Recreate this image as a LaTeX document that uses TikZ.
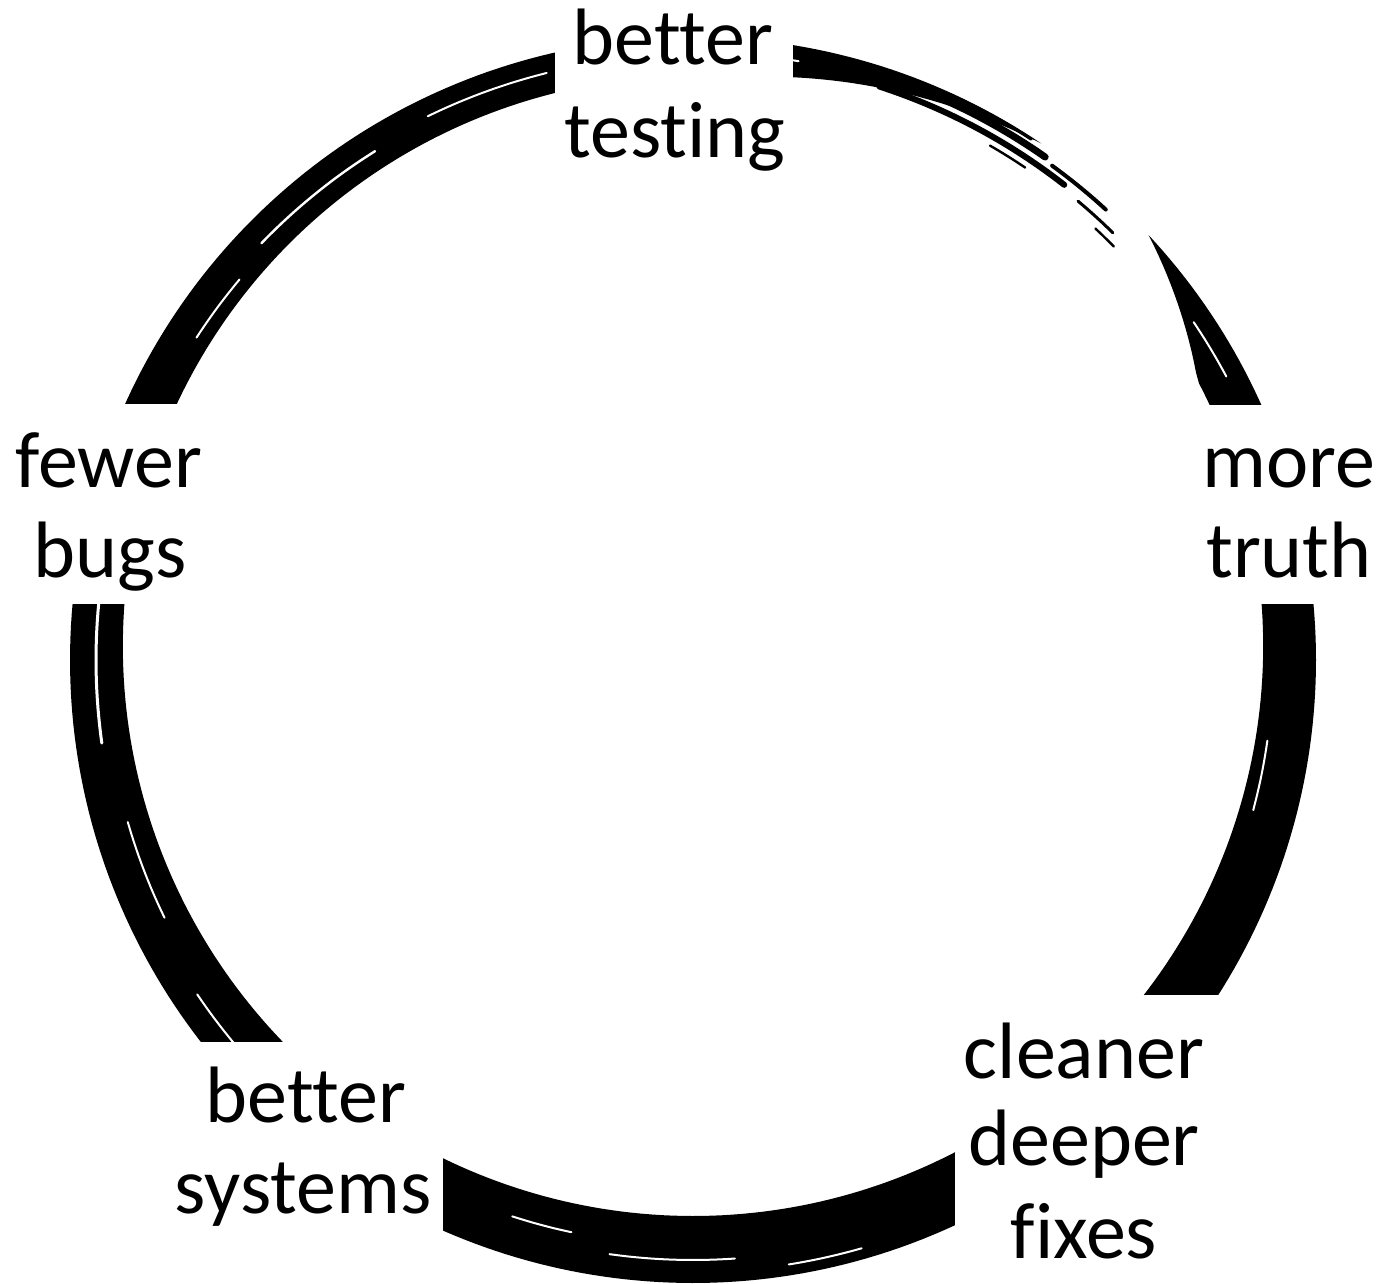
\documentclass[tikz,border=0pt]{standalone}
\usepackage{fontspec}
\setmainfont{Carlito}[Ligatures={NoCommon,NoRequired,NoContextual}]
\begin{document}
\begin{tikzpicture}[x=0.5pt,y=-0.5pt,
  lbl/.style={font=\fontsize{40pt}{46pt}\selectfont, anchor=base, inner sep=0pt},
  mask/.style={fill=white},
  streak/.style={black, line cap=round, line join=round},
  slit/.style={white, line cap=round}]
\useasboundingbox (0,0) rectangle (1386,1284);
\fill[white] (0,0) rectangle (1386,1284);
% main brush ring
\fill[black] plot[domain=-304:43, samples=340] ({693+623*cos(\x)},{660-623*sin(\x)})
  -- plot[domain=43:-304, samples=340]
  ({693+(623-(53-14*sin(\x))*min(1,(43-\x)/14)*min(1,(\x+304)/30))*cos(\x)},
   {660-(623-(53-14*sin(\x))*min(1,(43-\x)/14)*min(1,(\x+304)/30))*sin(\x)}) -- cycle;
% fragmented streaks, upper right
\draw[streak, line width=3.5pt] plot[domain=76:55, samples=30] ({693+614*cos(\x)},{660-614*sin(\x)});
\draw[streak, line width=3pt] plot[domain=72:52, samples=30] ({693+603*cos(\x)},{660-603*sin(\x)});
\draw[streak, line width=1.5pt] plot[domain=66:57, samples=20] ({693+621*cos(\x)},{660-621*sin(\x)});
\draw[streak, line width=2pt] plot[domain=54:47.5, samples=10] ({693+611*cos(\x)},{660-611*sin(\x)});
\draw[streak, line width=1.5pt] plot[domain=50:45.5, samples=10] ({693+599*cos(\x)},{660-599*sin(\x)});
\draw[streak, line width=1.2pt] plot[domain=47:44.5, samples=10] ({693+590*cos(\x)},{660-590*sin(\x)});
\draw[streak, line width=1.2pt] plot[domain=60:56, samples=10] ({693+594*cos(\x)},{660-594*sin(\x)});
% white slits for brush texture
\draw[slit, line width=1.5pt] plot[domain=172:188, samples=20] ({693+597*cos(\x)},{660-597*sin(\x)});
\draw[slit, line width=1pt] plot[domain=160:168, samples=10] ({693+607*cos(\x)},{660-607*sin(\x)});
\draw[slit, line width=1pt] plot[domain=196:206, samples=10] ({693+588*cos(\x)},{660-588*sin(\x)});
\draw[slit, line width=1.2pt] plot[domain=122:136, samples=20] ({693+600*cos(\x)},{660-600*sin(\x)});
\draw[slit, line width=1pt] plot[domain=140:147, samples=10] ({693+592*cos(\x)},{660-592*sin(\x)});
\draw[slit, line width=1pt] plot[domain=104:116, samples=20] ({693+605*cos(\x)},{660-605*sin(\x)});
\draw[slit, line width=1pt] plot[domain=80:88, samples=10] ({693+608*cos(\x)},{660-608*sin(\x)});
\draw[slit, line width=1pt] plot[domain=262:274, samples=20] ({693+600*cos(\x)},{660-600*sin(\x)});
\draw[slit, line width=1pt] plot[domain=279:286, samples=10] ({693+612*cos(\x)},{660-612*sin(\x)});
\draw[slit, line width=1pt] plot[domain=252:258, samples=10] ({693+585*cos(\x)},{660-585*sin(\x)});
\draw[slit, line width=1pt] plot[domain=214:222, samples=10] ({693+598*cos(\x)},{660-598*sin(\x)});
\draw[slit, line width=1pt] plot[domain=345:352, samples=10] ({693+580*cos(\x)},{660-580*sin(\x)});
\draw[slit, line width=1pt] plot[domain=28:34, samples=10] ({693+604*cos(\x)},{660-604*sin(\x)});
% white masks behind labels
\fill[mask] (555,0) rectangle (793,185);
\fill[mask] (1195,405) rectangle (1386,604);
\fill[mask] (0,404) rectangle (205,604);
\fill[mask] (955,995) rectangle (1230,1284);
\fill[mask] (170,1042) rectangle (443,1284);
% labels
\node[lbl] (bt1) at (673,65) {better};
\node[lbl] (bt2) at (675,157) {testing};
\node[lbl] (mt1) at (1289,487) {more};
\node[lbl] (mt2) at (1289,577) {truth};
\node[lbl] (fb1) at (109,487) {fewer};
\node[lbl] (fb2) at (110,577) {bugs};
\node[lbl] (cd1) at (1084,1078) {cleaner};
\node[lbl] (cd2) at (1084,1165) {deeper};
\node[lbl] (cd3) at (1084,1258) {fixes};
\node[lbl] (bs1) at (306,1122) {better};
\node[lbl] (bs2) at (303,1213) {systems};
\end{tikzpicture}
\end{document}
